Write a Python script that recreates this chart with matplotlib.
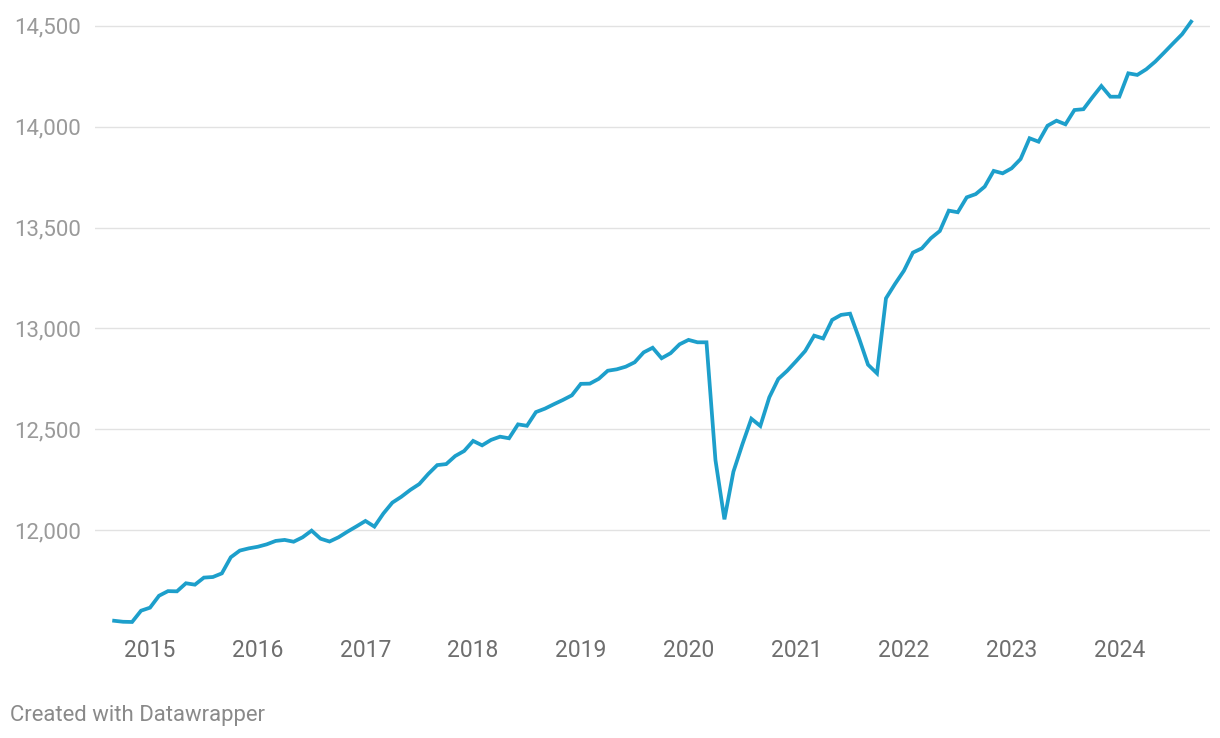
import matplotlib
matplotlib.use("Agg")
import matplotlib.pyplot as plt
import numpy as np

plt.rcParams['font.family'] = ['Roboto', 'DejaVu Sans']

# Monthly values, Sep 2014 - Sep 2024
start_year = 2014
start_month = 9
values = [
    11550, 11545, 11544, 11600,
    11615, 11674, 11697, 11696, 11736, 11729, 11764, 11767, 11785, 11865, 11898, 11909,
    11917, 11929, 11946, 11951, 11942, 11964, 11997, 11957, 11943, 11964, 11992, 12018,
    12045, 12017, 12082, 12136, 12165, 12199, 12228, 12278, 12322, 12327, 12367, 12392,
    12442, 12420, 12447, 12463, 12455, 12524, 12517, 12585, 12602, 12624, 12645, 12668,
    12725, 12726, 12750, 12790, 12797, 12810, 12832, 12881, 12904, 12852, 12877, 12921,
    12943, 12931, 12931, 12347, 12053, 12289, 12425, 12552, 12516, 12658, 12749, 12790,
    12838, 12888, 12964, 12950, 13042, 13067, 13073, 12951, 12820, 12777, 13149, 13220,
    13286, 13376, 13397, 13447, 13483, 13584, 13576, 13650, 13666, 13703, 13781, 13769,
    13794, 13840, 13943, 13926, 14005, 14030, 14012, 14083, 14087, 14146, 14202, 14149,
    14149, 14265, 14257, 14285, 14323, 14368, 14414, 14459, 14521,
]
year_ticks = list(range(2015, 2025))
y_ticks = [12000, 12500, 13000, 13500, 14000, 14500]

# x position as fractional year (January = year.0)
months = np.arange(len(values))
x = start_year + (start_month - 1 + months) / 12

fig = plt.figure(figsize=(12.2, 7.38), dpi=100, facecolor='white')
ax = fig.add_axes([95 / 1220, 1 - 625 / 738, (1210 - 95) / 1220, 615 / 738])

ax.plot(x, values, color='#1d9fcb', linewidth=2.7, solid_joinstyle='miter', zorder=3)

ax.set_xlim(2014.489, 2024.842)
ax.set_ylim(11529, 14579)

ax.set_yticks(y_ticks)
ax.set_yticklabels([f"{v:,}" for v in y_ticks])
ax.set_xticks(year_ticks)
ax.set_xticklabels([str(y) for y in year_ticks])

ax.grid(axis='y', color='#e2e2e2', linewidth=1.0, zorder=0)
ax.grid(axis='x', visible=False)
for s in ax.spines.values():
    s.set_visible(False)

ax.tick_params(axis='y', length=0, pad=10, labelsize=16, labelcolor='#9a9a9a')
ax.tick_params(axis='x', length=0, pad=10, labelsize=16.5, labelcolor='#6e6e6e')

fig.text(10 / 1220, 1 - 715 / 738, "Created with Datawrapper", fontsize=15.9,
         color='#8a8a8a', ha='left', va='center')

fig.savefig("out.png", dpi=100, facecolor='white')
